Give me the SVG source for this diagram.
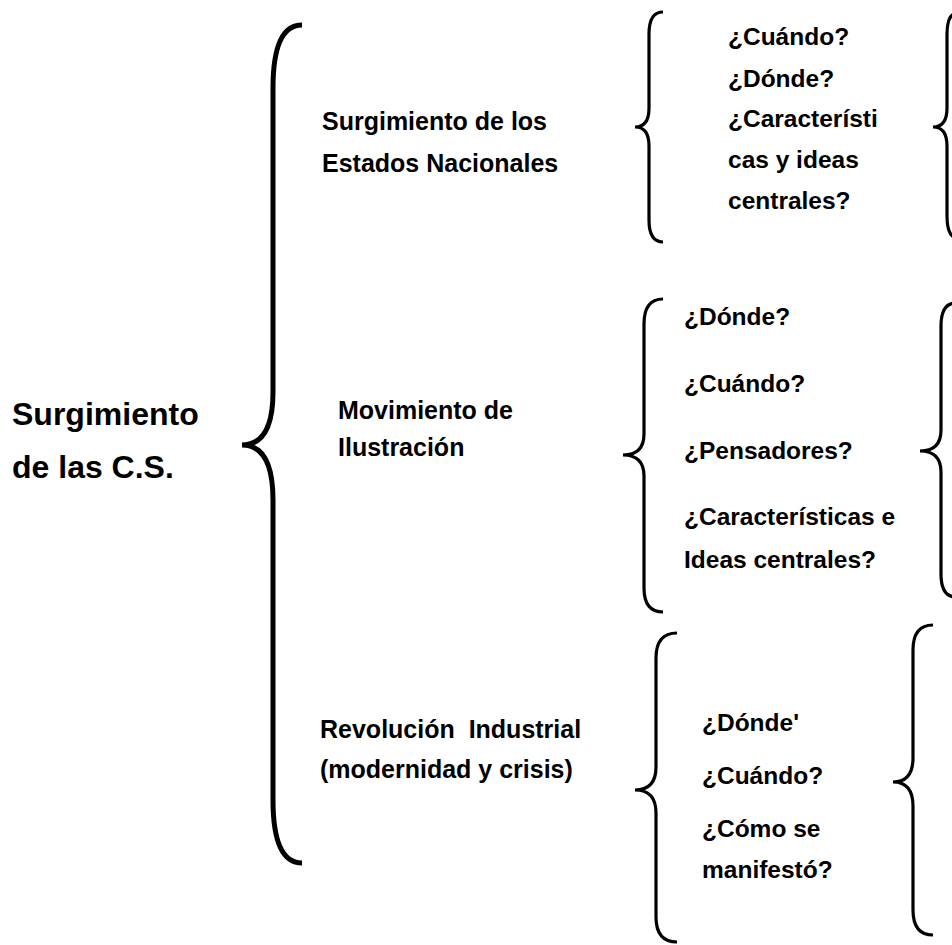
<svg xmlns="http://www.w3.org/2000/svg" width="952" height="945" viewBox="0 0 952 945">
<style>
  text { font-family: "Liberation Sans", Arial, sans-serif; font-weight: bold; fill: #000; white-space: pre; }
  .title { font-size: 32px; }
  .lbl { font-size: 25px; }
  .q { font-size: 24.5px; }
  .brace { fill: none; stroke: #000; stroke-width: 3.2; stroke-linecap: butt; }
  .big { stroke-width: 5; }
</style>
<rect width="952" height="945" fill="#fff"/>
<g id="connectors">
  <path class="brace big" d="M302,25 Q273,25 273,88 L273,392 Q273,445 242,445 Q273,445 273,500 L273,800 Q273,863 302,863"/>
  <path class="brace" d="M663,12 Q649,12 649,34 L649,108 Q649,127 635,127 Q649,127 649,146 L649,220 Q649,242 663,242"/>
  <path class="brace" d="M958,13 Q947,13 947,34 L947,108 Q947,127 933,127 Q947,127 947,146 L947,216 Q947,238 958,238"/>
  <path class="brace" d="M663,299 Q644,299 644,324 L644,434 Q644,455 623,455 Q644,455 644,476 L644,588 Q644,612 663,612"/>
  <path class="brace" d="M956,303 Q941,303 941,326 L941,430 Q941,451 920,451 Q941,451 941,472 L941,574 Q941,597 956,597"/>
  <path class="brace" d="M677,633 Q656,633 656,658 L656,767 Q656,790 635,790 Q656,790 656,813 L656,917 Q656,942 677,942"/>
  <path class="brace" d="M933,625 Q913,625 913,650 L913,758 Q913,782 893,782 Q913,782 913,806 L913,910 Q913,935 933,935"/>
</g>
<g id="root">
  <text class="title" x="12" y="425">Surgimiento</text>
  <text class="title" x="12" y="478">de las C.S.</text>
</g>
<g id="estados">
  <text class="lbl" x="322" y="130">Surgimiento de los</text>
  <text class="lbl" x="322" y="172">Estados Nacionales</text>
</g>
<g id="ilustracion">
  <text class="lbl" x="338" y="419">Movimiento de</text>
  <text class="lbl" x="338" y="456">Ilustración</text>
</g>
<g id="revolucion">
  <text class="lbl" x="320" y="738">Revolución  Industrial</text>
  <text class="lbl" x="320" y="778">(modernidad y crisis)</text>
</g>
<g id="preguntas-estados">
  <text class="q" x="728" y="45">¿Cuándo?</text>
  <text class="q" x="728" y="87">¿Dónde?</text>
  <text class="q" x="728" y="127">¿Característi</text>
  <text class="q" x="728" y="168">cas y ideas</text>
  <text class="q" x="728" y="209">centrales?</text>
</g>
<g id="preguntas-ilustracion">
  <text class="q" x="684" y="325">¿Dónde?</text>
  <text class="q" x="684" y="392">¿Cuándo?</text>
  <text class="q" x="684" y="459">¿Pensadores?</text>
  <text class="q" x="684" y="525">¿Características e</text>
  <text class="q" x="684" y="568">Ideas centrales?</text>
</g>
<g id="preguntas-revolucion">
  <text class="q" x="702" y="731">¿Dónde'</text>
  <text class="q" x="702" y="784">¿Cuándo?</text>
  <text class="q" x="702" y="837">¿Cómo se</text>
  <text class="q" x="702" y="878">manifestó?</text>
</g>
</svg>
